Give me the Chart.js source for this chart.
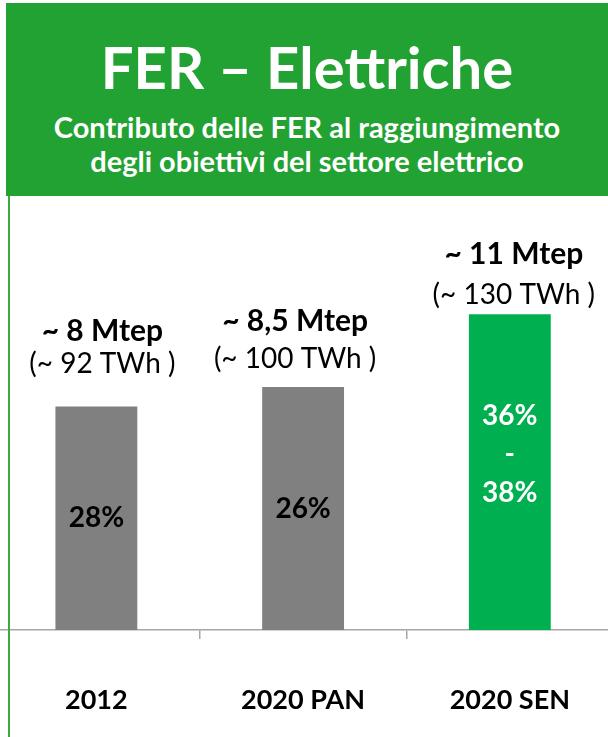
<!DOCTYPE html>
<html>
<head>
<meta charset="utf-8">
<script src="https://cdn.jsdelivr.net/npm/chart.js@4.4.1/dist/chart.umd.min.js"></script>
<style>
  html, body { margin: 0; padding: 0; background: #fff; overflow: hidden; }
  body { width: 608px; height: 737px; position: relative; font-family: Lato, sans-serif; }
  #header { position: absolute; left: 6px; top: 3px; width: 602px; height: 193px; background: #22a232; color: #fff; }
  #header div { position: absolute; left: 0; width: 100%; text-align: center; font-weight: bold; white-space: nowrap; }
  #title { top: 35px; font-size: 58px; line-height: 58px; }
  #sub1 { top: 108px; font-size: 29px; line-height: 32px; }
  #sub2 { top: 142px; font-size: 29px; line-height: 32px; }
  #wrap { position: absolute; left: -7px; top: 196px; width: 622px; height: 541px; }
  #vline { position: absolute; left: 8px; top: 196px; width: 2px; height: 541px; background: #3aaa3a; }
</style>
</head>
<body>
<div id="header">
  <div id="title">FER – Elettriche</div>
  <div id="sub1">Contributo delle FER al raggiungimento</div>
  <div id="sub2">degli obiettivi del settore elettrico</div>
</div>
<div id="wrap"><canvas id="chart"></canvas></div>
<div id="vline"></div>
<script>
var categories = ['2012', '2020 PAN', '2020 SEN'];
var twhValues = [92, 100, 130];
var mtepLabels = ['~ 8 Mtep', '~ 8,5 Mtep', '~ 11 Mtep'];
var twhLabels = ['(~ 92 TWh )', '(~ 100 TWh )', '(~ 130 TWh )'];
var shareLabels = [['28%'], ['26%'], ['36%', '-', '38%']];

var barColors = ['#808080', '#808080', '#00b050'];
var innerColors = ['#000000', '#000000', '#ffffff'];

// hand placed text boxes in the original slide
var gapMtep = [75, 66, 60];
var gapTwh = [43, 28, 19];
var textShiftX = [6, -8, 4];
var innerShiftY = [0, 0, -18];

var barLabels = {
    id: 'barLabels',
    afterDatasetsDraw: function(chart) {
        var ctx = chart.ctx;
        var meta = chart.getDatasetMeta(0);
        ctx.save();
        ctx.textAlign = 'center';
        ctx.textBaseline = 'middle';
        meta.data.forEach(function(bar, i) {
            var x = bar.x + textShiftX[i];
            ctx.fillStyle = '#000';
            ctx.font = 'bold 30px Lato';
            ctx.fillText(mtepLabels[i], x, bar.y - gapMtep[i]);
            ctx.font = '28px Lato';
            ctx.fillText(twhLabels[i], x, bar.y - gapTwh[i]);

            var lines = shareLabels[i];
            var mid = (bar.y + bar.base) / 2 + innerShiftY[i];
            ctx.fillStyle = innerColors[i];
            ctx.font = 'bold 28px Lato';
            lines.forEach(function(t, k) {
                ctx.fillText(t, bar.x, mid + (k - (lines.length - 1) / 2) * 38.5);
            });
        });
        ctx.restore();
    }
};

document.addEventListener("DOMContentLoaded", function() {
    var ctx = document.getElementById('chart').getContext('2d');
    new Chart(ctx, {
        type: 'bar',
        data: {
            labels: categories,
            datasets: [{
                data: twhValues,
                backgroundColor: barColors,
                borderWidth: 0,
                categoryPercentage: 1,
                barPercentage: 0.396
            }]
        },
        options: {
            responsive: true,
            maintainAspectRatio: false,
            animation: false,
            events: [],
            layout: { padding: { top: 21, left: 0, right: 0, bottom: 0 } },
            plugins: {
                legend: { display: false },
                tooltip: { enabled: false }
            },
            scales: {
                x: {
                    afterFit: function(scale) { scale.height = 107; },
                    grid: {
                        display: true,
                        drawOnChartArea: false,
                        drawTicks: true,
                        tickLength: 9,
                        color: '#a6a6a6',
                        lineWidth: 1.5
                    },
                    border: { color: '#a6a6a6', width: 1.5 },
                    ticks: {
                        color: '#000',
                        padding: 45,
                        font: { family: 'Lato', weight: 'bold', size: 27 }
                    }
                },
                y: {
                    display: false,
                    min: 0,
                    max: 170
                }
            }
        },
        plugins: [barLabels]
    });
});
</script>
</body>
</html>
